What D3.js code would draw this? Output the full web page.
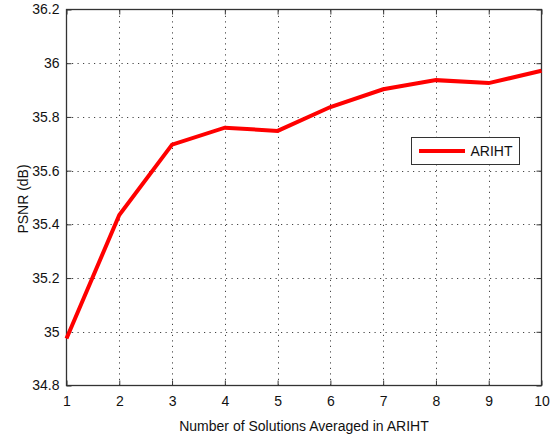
<!DOCTYPE html>
<html>
<head>
<meta charset="utf-8">
<script src="https://cdn.jsdelivr.net/npm/d3@7"></script>
<style>
  html, body { margin: 0; padding: 0; background: #fff; }
  svg { display: block; font-family: "Liberation Sans", Arial, Helvetica, sans-serif; }
</style>
</head>
<body>
<svg id="chart" width="550" height="435"></svg>
<script>
// Number of solutions averaged (x) and resulting PSNR in dB (y)
const solutions = [1, 2, 3, 4, 5, 6, 7, 8, 9, 10];
const psnr = [34.975, 35.435, 35.697, 35.760, 35.748, 35.837, 35.903, 35.937, 35.926, 35.972];
const xTicks = [1, 2, 3, 4, 5, 6, 7, 8, 9, 10];
const yTicks = [34.8, 35.0, 35.2, 35.4, 35.6, 35.8, 36.0, 36.2];
const yTickLabels = ["34.8", "35", "35.2", "35.4", "35.6", "35.8", "36", "36.2"];
const seriesName = "ARIHT";
const xTitle = "Number of Solutions Averaged in ARIHT";
const yTitle = "PSNR (dB)";

const svg = d3.select("#chart");
const L = 66.5, R = 541.5, T = 9.5, B = 385.5;
const axisColor = "#333";
const tickLen = 5;

const x = d3.scaleLinear().domain([1, 10]).range([L, R]);
const y = d3.scaleLinear().domain([34.8, 36.2]).range([B, T]);

// dotted grid
const grid = svg.append("g").attr("stroke", "#444").attr("stroke-width", 1)
  .attr("stroke-dasharray", "1.2,4.3");
grid.selectAll("line.v").data(xTicks.slice(1, -1)).join("line")
  .attr("x1", d => Math.round(x(d)) + 0.5).attr("x2", d => Math.round(x(d)) + 0.5)
  .attr("y1", B).attr("y2", T);
grid.selectAll("line.h").data(yTicks.slice(1, -1)).join("line")
  .attr("y1", d => Math.round(y(d)) + 0.5).attr("y2", d => Math.round(y(d)) + 0.5)
  .attr("x1", L).attr("x2", R);

// axes with inward ticks on all four sides
const fmtY = d => yTickLabels[yTicks.indexOf(d)];
function styleAxis(g) {
  g.select(".domain").remove();
  g.selectAll(".tick line").attr("stroke", axisColor);
  g.selectAll(".tick text").attr("fill", "#111").attr("font-size", 14)
    .attr("font-family", "Liberation Sans, Arial, sans-serif");
}
svg.append("g").attr("transform", `translate(0,${B})`)
  .call(d3.axisBottom(x).tickValues(xTicks).tickSizeInner(-tickLen).tickSizeOuter(0).tickPadding(11)
    .tickFormat(d3.format("d")))
  .call(styleAxis);
svg.append("g").attr("transform", `translate(0,${T})`)
  .call(d3.axisTop(x).tickValues(xTicks).tickSizeInner(-tickLen).tickSizeOuter(0).tickFormat(""))
  .call(styleAxis);
svg.append("g").attr("transform", `translate(${L},0)`)
  .call(d3.axisLeft(y).tickValues(yTicks).tickSizeInner(-tickLen).tickSizeOuter(0).tickPadding(7)
    .tickFormat(fmtY))
  .call(styleAxis);
svg.append("g").attr("transform", `translate(${R},0)`)
  .call(d3.axisRight(y).tickValues(yTicks).tickSizeInner(-tickLen).tickSizeOuter(0).tickFormat(""))
  .call(styleAxis);

// frame
svg.append("rect").attr("x", L).attr("y", T).attr("width", R - L).attr("height", B - T)
  .attr("fill", "none").attr("stroke", axisColor).attr("stroke-width", 1.3);

// data line
const line = d3.line().x((d, i) => x(solutions[i])).y(d => y(d));
svg.append("path").datum(psnr).attr("d", line)
  .attr("fill", "none").attr("stroke", "#ff0000").attr("stroke-width", 4)
  .attr("stroke-linejoin", "miter");

// axis titles
svg.append("text").attr("x", (L + R) / 2).attr("y", 431).attr("text-anchor", "middle")
  .attr("font-size", 14).attr("fill", "#111").text(xTitle);
svg.append("text").attr("transform", "translate(28,199) rotate(-90)")
  .attr("text-anchor", "middle").attr("font-size", 14).attr("fill", "#111").text(yTitle);

// legend
const lg = svg.append("g");
lg.append("rect").attr("x", 411.5).attr("y", 137.5).attr("width", 108).attr("height", 27)
  .attr("fill", "#fff").attr("stroke", axisColor).attr("stroke-width", 1);
lg.append("line").attr("x1", 419).attr("x2", 465).attr("y1", 151).attr("y2", 151)
  .attr("stroke", "#ff0000").attr("stroke-width", 4);
lg.append("text").attr("x", 470.5).attr("y", 156).attr("font-size", 14).attr("fill", "#111")
  .text(seriesName);
</script>
</body>
</html>
